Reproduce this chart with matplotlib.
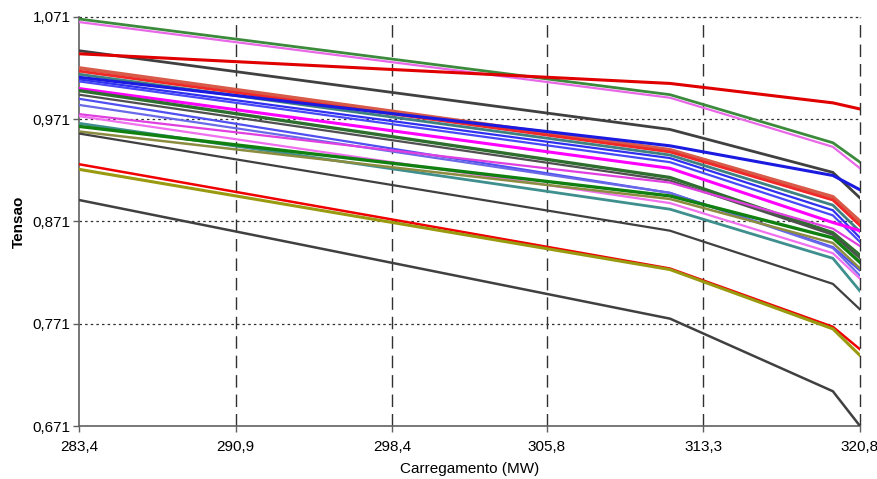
import matplotlib
matplotlib.use("Agg")
import matplotlib.pyplot as plt
from matplotlib.ticker import FixedLocator, FuncFormatter

plt.rcParams['font.family'] = ['Liberation Sans', 'DejaVu Sans']

# Load points (MW)
carga = [283.4, 311.7, 319.5, 320.8]

# Voltage profiles (pu), one per bus
tensao = {
    "b01": [1.069, 0.995, 0.948, 0.929],
    "b02": [1.066, 0.992, 0.944, 0.923],
    "b03": [1.038, 0.961, 0.919, 0.894],
    "b04": [1.035, 1.006, 0.987, 0.981],
    "b05": [1.021, 0.941, 0.895, 0.871],
    "b06": [1.018, 0.939, 0.892, 0.867],
    "b07": [1.015, 0.936, 0.887, 0.861],
    "b08": [1.012, 0.945, 0.916, 0.902],
    "b09": [1.010, 0.933, 0.882, 0.855],
    "b10": [1.008, 0.929, 0.877, 0.851],
    "b11": [1.001, 0.923, 0.870, 0.862],
    "b12": [0.999, 0.914, 0.860, 0.838],
    "b13": [0.995, 0.911, 0.858, 0.835],
    "b14": [0.991, 0.899, 0.846, 0.823],
    "b15": [0.985, 0.899, 0.845, 0.818],
    "b16": [0.976, 0.909, 0.864, 0.847],
    "b17": [0.974, 0.889, 0.840, 0.815],
    "b18": [0.967, 0.883, 0.835, 0.803],
    "b19": [0.964, 0.896, 0.855, 0.831],
    "b20": [0.959, 0.893, 0.850, 0.825],
    "b21": [0.957, 0.862, 0.810, 0.785],
    "b22": [0.927, 0.825, 0.768, 0.746],
    "b23": [0.922, 0.824, 0.766, 0.740],
    "b24": [0.892, 0.776, 0.705, 0.671],
}

cores = {
    "b01": "#3C8A3C", "b02": "#E868E8", "b03": "#404040", "b04": "#E00000",
    "b05": "#D85A48", "b06": "#F02828", "b07": "#3F8080", "b08": "#1A1AE0",
    "b09": "#3030F0", "b10": "#4848F8", "b11": "#FF00FF", "b12": "#2E6E2E",
    "b13": "#505050", "b14": "#5050F0", "b15": "#6A6AE8", "b16": "#E040E0",
    "b17": "#F070F0", "b18": "#3F8F8F", "b19": "#108010", "b20": "#8C8C40",
    "b21": "#404040", "b22": "#F00000", "b23": "#9A9A10", "b24": "#404040",
}
larguras = {
    "b01": 2.0, "b02": 1.6, "b03": 2.0, "b04": 2.2, "b05": 2.8, "b06": 2.0,
    "b07": 2.0, "b08": 2.2, "b09": 1.6, "b10": 1.6, "b11": 2.2, "b12": 2.4,
    "b13": 1.6, "b14": 1.6, "b15": 1.6, "b16": 1.6, "b17": 1.6, "b18": 2.0,
    "b19": 2.4, "b20": 1.8, "b21": 1.6, "b22": 1.8, "b23": 2.2, "b24": 1.8,
}

xticks = [283.4, 290.9, 298.4, 305.8, 313.3, 320.8]
yticks = [0.671, 0.771, 0.871, 0.971, 1.071]

fig = plt.figure(figsize=(8.78, 4.79), dpi=100)
ax = fig.add_axes([0.090, 0.1106, 0.8895, 0.854])

for k, v in tensao.items():
    ax.plot(carga, v, color=cores[k], lw=larguras[k], solid_joinstyle='round', zorder=3)

ax.set_xlim(283.4, 320.8)
ax.set_ylim(0.671, 1.071)
ax.xaxis.set_major_locator(FixedLocator(xticks))
ax.yaxis.set_major_locator(FixedLocator(yticks))
ax.xaxis.set_major_formatter(FuncFormatter(lambda v, p: f"{v:.1f}".replace('.', ',')))
ax.yaxis.set_major_formatter(FuncFormatter(lambda v, p: f"{v:.3f}".replace('.', ',')))

for x in xticks[1:]:
    ax.axvline(x, color='#303030', lw=1.0, dashes=(9, 5), zorder=1, clip_on=False)
for y in yticks[1:]:
    ax.axhline(y, color='#303030', lw=0.9, dashes=(2, 2.5), zorder=1, clip_on=False)

for s in ['top', 'right']:
    ax.spines[s].set_visible(False)
for s in ['left', 'bottom']:
    ax.spines[s].set_color('#606060')
    ax.spines[s].set_linewidth(1.2)

ax.tick_params(axis='both', direction='out', length=4, width=1, color='#606060',
               labelsize=11, labelcolor='black')
ax.tick_params(axis='x', pad=6)
ax.tick_params(axis='y', pad=2)

ax.set_xlabel("Carregamento (MW)", fontsize=11, labelpad=6)
ax.set_ylabel("Tensao", fontsize=11, fontweight='bold', labelpad=5)

fig.savefig("out.png", dpi=100, facecolor='white')
